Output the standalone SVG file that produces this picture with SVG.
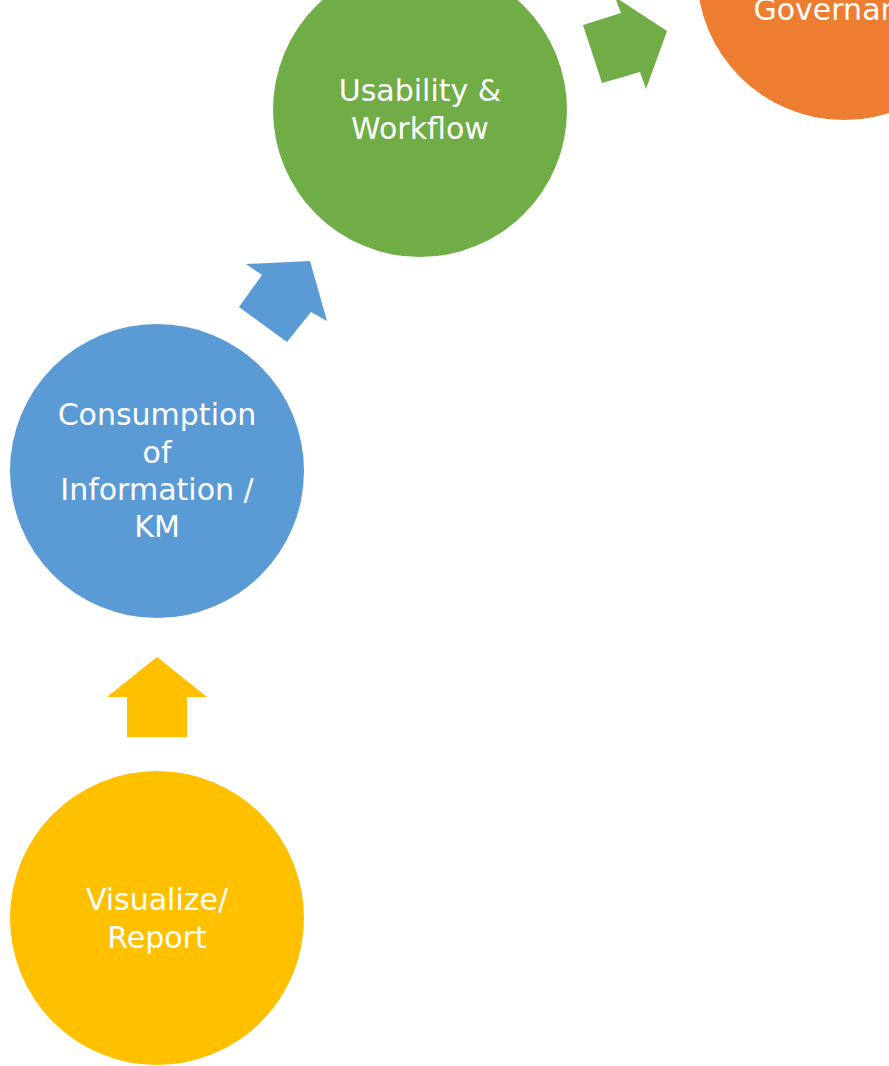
<svg xmlns="http://www.w3.org/2000/svg" width="889" height="1066" viewBox="0 0 889 1066">
<style>
.lbl{font-family:"DejaVu Sans",sans-serif;font-size:30px;fill:#fff;text-anchor:middle}
</style>
<rect width="889" height="1066" fill="#fff"/>
<g id="connectors">
<polygon id="arrow-yellow" fill="#FFC000" points="157,657 207,697 187,697 187,737 127,737 127,697 107,697"/>
<polygon id="arrow-blue" fill="#5B9BD5" points="239,307 287,342 311,312 327,321 310,261 246,264 262,275"/>
<polygon id="arrow-green" fill="#70AD47" points="583,25 602,83 640,72 646,89 667,31 615,-3 621,13"/>
</g>
<g id="node-visualize">
<circle cx="157" cy="918" r="147" fill="#FFC000"/>
<text class="lbl" x="157" y="910">Visualize/</text>
<text class="lbl" x="157" y="948">Report</text>
</g>
<g id="node-consumption">
<circle cx="157" cy="471" r="147" fill="#5B9BD5"/>
<text class="lbl" x="157" y="425">Consumption</text>
<text class="lbl" x="157" y="463">of</text>
<text class="lbl" x="157" y="500">Information /</text>
<text class="lbl" x="157" y="537">KM</text>
</g>
<g id="node-usability">
<circle cx="420" cy="110" r="147" fill="#70AD47"/>
<text class="lbl" x="420" y="101">Usability &amp;</text>
<text class="lbl" x="420" y="139">Workflow</text>
</g>
<g id="node-governance">
<circle cx="844" cy="-27" r="147" fill="#ED7D31"/>
<text class="lbl" x="844" y="20">Governance</text>
</g>
</svg>
